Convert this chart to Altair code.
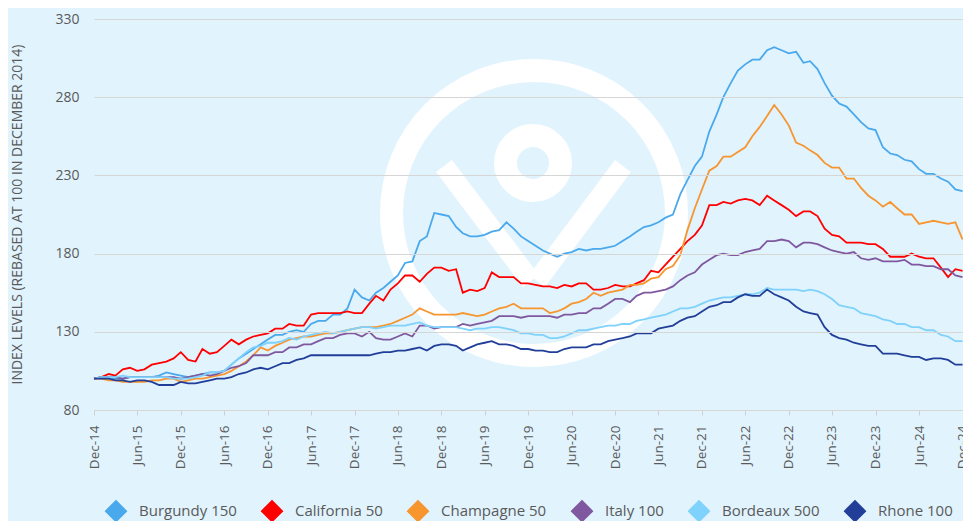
import altair as alt
import pandas as pd

# ---- data (monthly, Dec-14 .. Dec-24) ----
series_names = ["Burgundy 150", "California 50", "Champagne 50", "Italy 100", "Bordeaux 500", "Rhone 100"]
series_colors = ["#4aa9ec", "#ff0000", "#f7952e", "#7f589f", "#7ed2fb", "#213e98"]

burgundy = [100, 101, 101, 100, 100, 101, 101, 101, 101, 102, 104, 103, 102, 101, 102, 103, 104, 104, 105, 109,
            113, 116, 119, 122, 125, 128, 128, 130, 131, 130, 135, 137, 137, 141, 141, 145, 157, 152, 150, 155,
            158, 162, 166, 174, 175, 188, 191, 206, 205, 204, 197, 193, 191, 191, 192, 194, 195, 200, 196, 191,
            188, 185, 182, 180, 178, 180, 181, 183, 182, 183, 183, 184, 185, 188, 191, 194, 197, 198, 200, 203,
            205, 218, 227, 236, 242, 258, 269, 280, 289, 297, 301, 304, 304, 310, 312, 310, 308, 309, 302, 303,
            298, 289, 281, 276, 274, 269, 264, 260, 259, 248, 244, 243, 240, 239, 234, 231, 231, 228, 226, 221,
            220]
california = [100, 101, 103, 102, 106, 107, 105, 106, 109, 110, 111, 113, 117, 112, 111, 119, 116, 117, 121, 125,
              122, 125, 127, 128, 129, 132, 132, 135, 134, 134, 141, 142, 142, 142, 142, 143, 142, 142, 148, 153,
              150, 157, 161, 166, 166, 162, 167, 171, 171, 169, 170, 155, 157, 156, 158, 168, 165, 165, 165, 161,
              161, 160, 159, 159, 158, 160, 159, 161, 161, 157, 157, 158, 160, 159, 159, 161, 163, 169, 168, 173,
              178, 183, 188, 192, 198, 211, 211, 213, 212, 214, 215, 214, 211, 217, 214, 211, 208, 204, 207, 207,
              204, 196, 192, 191, 187, 187, 187, 186, 186, 183, 178, 178, 178, 180, 178, 177, 177, 171, 165, 170,
              169]
champagne = [100, 100, 99, 99, 98, 98, 98, 98, 99, 99, 100, 100, 98, 99, 100, 100, 101, 102, 103, 105,
             108, 111, 115, 120, 118, 121, 123, 125, 126, 127, 127, 128, 129, 129, 130, 131, 132, 133, 133, 133,
             134, 135, 137, 139, 141, 145, 143, 141, 141, 141, 141, 142, 141, 140, 141, 143, 145, 146, 148, 145,
             145, 145, 145, 142, 143, 145, 148, 149, 151, 155, 153, 155, 156, 157, 160, 160, 161, 164, 165, 170,
             172, 179, 195, 209, 221, 233, 236, 242, 242, 245, 248, 255, 261, 268, 275, 269, 262, 251, 249, 246,
             243, 238, 235, 235, 228, 228, 222, 217, 214, 210, 213, 209, 205, 205, 199, 200, 201, 200, 199, 200,
             189]
italy = [100, 101, 101, 101, 100, 101, 101, 101, 101, 101, 101, 101, 100, 101, 102, 103, 102, 103, 105, 107,
         108, 110, 115, 115, 115, 117, 117, 120, 120, 122, 122, 124, 126, 126, 128, 129, 129, 127, 130, 126,
         125, 125, 127, 129, 127, 134, 134, 132, 133, 133, 133, 135, 134, 135, 136, 137, 140, 140, 140, 139,
         140, 140, 140, 140, 139, 141, 141, 142, 142, 145, 145, 148, 151, 151, 149, 153, 155, 155, 156, 157,
         159, 163, 166, 168, 173, 176, 179, 180, 179, 179, 181, 182, 183, 188, 188, 189, 188, 184, 187, 187,
         186, 184, 182, 181, 180, 181, 177, 176, 177, 175, 175, 175, 176, 173, 173, 172, 172, 170, 170, 166,
         165]
bordeaux = [100, 101, 101, 101, 102, 101, 101, 101, 101, 101, 101, 100, 100, 100, 101, 102, 104, 104, 105, 109,
            113, 117, 120, 121, 123, 123, 124, 126, 125, 127, 128, 129, 130, 129, 130, 131, 132, 133, 133, 132,
            133, 134, 134, 134, 135, 136, 134, 133, 133, 133, 133, 132, 131, 132, 132, 133, 133, 132, 131, 129,
            129, 128, 128, 126, 126, 127, 129, 131, 131, 132, 133, 134, 134, 135, 135, 137, 138, 139, 140, 141,
            143, 145, 145, 146, 148, 150, 151, 152, 152, 153, 154, 154, 155, 158, 157, 157, 157, 157, 156, 157,
            156, 154, 151, 147, 146, 145, 142, 141, 140, 138, 137, 135, 135, 133, 133, 131, 131, 128, 127, 124,
            124]
rhone = [100, 100, 100, 99, 99, 98, 99, 99, 98, 96, 96, 96, 98, 97, 97, 98, 99, 100, 100, 101,
         103, 104, 106, 107, 106, 108, 110, 110, 112, 113, 115, 115, 115, 115, 115, 115, 115, 115, 115, 116,
         117, 117, 118, 118, 119, 120, 118, 121, 122, 122, 121, 118, 120, 122, 123, 124, 122, 122, 121, 119,
         119, 118, 118, 117, 117, 119, 120, 120, 120, 122, 122, 124, 125, 126, 127, 129, 129, 129, 132, 133,
         134, 137, 139, 140, 143, 146, 147, 149, 149, 152, 154, 153, 153, 157, 154, 152, 150, 146, 143, 142,
         141, 133, 128, 126, 125, 123, 122, 121, 121, 116, 116, 116, 115, 114, 114, 112, 113, 113, 112, 109,
         109]

y_ticks = [80, 130, 180, 230, 280, 330]

months = pd.date_range("2014-12-01", periods=121, freq="MS")
rows = []
for name, vals in zip(series_names, [burgundy, california, champagne, italy, bordeaux, rhone]):
    for d, v in zip(months, vals):
        rows.append({"date": d.strftime("%Y-%m-%d"), "series": name, "value": v})
df = pd.DataFrame(rows)

tick_dates = [alt.DateTime(year=2014 + (6 * i + 11) // 12, month=(6 * i + 11) % 12 + 1, date=1) for i in range(21)]

FONT = "Open Sans"
GREY = "#5a5a5a"

x_enc = alt.X(
    "date:T",
    title=None,
    scale=alt.Scale(domain=[alt.DateTime(year=2014, month=12, date=1), alt.DateTime(year=2024, month=12, date=3)]),
    axis=alt.Axis(values=tick_dates, format="%b-%y", labelAngle=270, labelFontSize=13.5, labelColor=GREY,
                  labelFont=FONT, tickSize=5, tickColor="#cfcfcf", domainColor="#d6d6d6", labelPadding=10,
                  grid=False, labelOverlap=False, labelBound=False),
)
y_enc = alt.Y(
    "value:Q",
    scale=alt.Scale(domain=[80, 330], nice=False, zero=False),
    axis=alt.Axis(values=y_ticks, title="INDEX LEVELS (REBASED AT 100 IN DECEMBER 2014)", titleFontSize=14,
                  titleFont=FONT, titleColor=GREY, titleFontWeight="normal", titleX=-77, titleY=195,
                  titleAngle=270, titleAlign="center", titleBaseline="middle",
                  labelFontSize=14, labelColor=GREY, labelFont=FONT, labelPadding=15, ticks=False, domain=False,
                  gridColor="#d6d6d6", gridWidth=1.2, zindex=1),
)

base = alt.Chart(df)

# watermark (decorative)
wm = pd.DataFrame({"k": [0]})
ring = alt.Chart(wm).mark_point(shape="circle", filled=False, stroke="white", strokeWidth=23, size=81225,
                                opacity=1).encode(x=alt.value(440), y=alt.value(194))
pin = alt.Chart(wm).mark_point(shape="circle", filled=False, stroke="white", strokeWidth=23, size=3025,
                               opacity=1).encode(x=alt.value(439), y=alt.value(144))
arm_l = alt.Chart(wm).mark_rule(color="white", strokeWidth=20).encode(
    x=alt.value(350), y=alt.value(147), x2=alt.value(437), y2=alt.value(262))
arm_r = alt.Chart(wm).mark_rule(color="white", strokeWidth=20).encode(
    x=alt.value(529), y=alt.value(147), x2=alt.value(443), y2=alt.value(262))

# thick-stroked small diamonds render as solid diamonds in the legend
lines = base.mark_line(strokeWidth=1.8).encode(
    x=x_enc,
    y=y_enc,
    color=alt.Color("series:N", scale=alt.Scale(domain=series_names, range=series_colors),
                    legend=alt.Legend(title=None, orient="bottom", direction="horizontal", offset=20,
                                      symbolType="diamond", symbolSize=132, symbolStrokeWidth=8,
                                      labelFontSize=15, labelColor=GREY, labelFont=FONT, labelOffset=13,
                                      columnPadding=13, padding=12)),
    detail="series:N",
)

chart = alt.layer(ring, pin, arm_l, arm_r, lines).properties(
    width=869, height=391,
    autosize=alt.AutoSizeParams(type="none"),
    padding={"left": 86, "top": 11, "right": 0, "bottom": 111},
    background="#e1f3fd",
).configure_view(stroke=None)

chart.save("out.html", embed_options={"renderer": "svg", "actions": False})
